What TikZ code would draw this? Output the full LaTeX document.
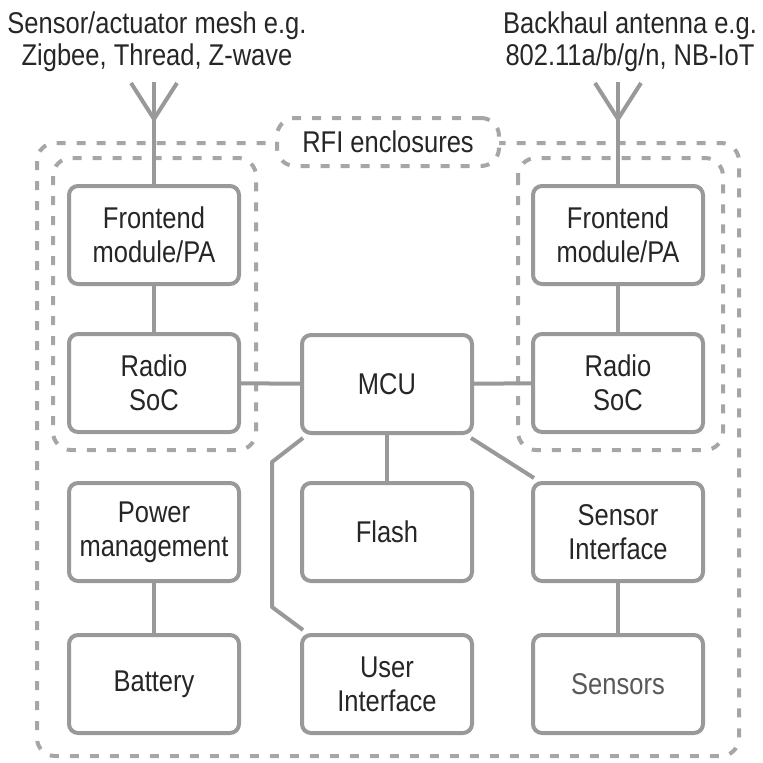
\documentclass[tikz,border=0pt]{standalone}
\usepackage{fontspec}
\setmainfont[FakeStretch=0.85]{Liberation Sans}
\begin{document}
\begin{tikzpicture}[x=1pt,y=-1pt,
  lineg/.style={draw=black!40, line width=4pt},
  blk/.style={lineg, rounded corners=9pt, fill=white, minimum width=170pt, minimum height=98pt,
    align=center, text=black!85, font=\fontsize{30}{34}\selectfont, inner sep=0pt},
  enc/.style={draw=black!35, line width=4pt, dash pattern=on 9pt off 11pt, rounded corners=18pt},
  lbl/.style={align=center, text=black!85, font=\fontsize{30}{32}\selectfont, inner sep=0pt}]
\useasboundingbox (0,0) rectangle (763,763);
% enclosures
\draw[enc] (37,143) rectangle (739,756);
\draw[enc] (53,158) rectangle (256,450);
\draw[enc] (518,158) rectangle (723,450);
\node[enc, fill=white, minimum width=222pt, minimum height=48pt, inner sep=0pt] (rfi) at (388,142) {};
\node[lbl] at (rfi) {RFI enclosures};
% blocks
\node[blk] (lf) at (154,235) {Frontend\\module/PA};
\node[blk] (lr) at (154,383) {Radio\\SoC};
\node[blk] (mcu) at (387,384) {MCU};
\node[blk] (rf) at (618,235) {Frontend\\module/PA};
\node[blk] (rr) at (618,383) {Radio\\SoC};
\node[blk] (pm) at (154,532) {Power\\management};
\node[blk] (fl) at (387,532) {Flash};
\node[blk] (si) at (618,532) {Sensor\\Interface};
\node[blk] (bat) at (154,684) {Battery};
\node[blk] (ui) at (387,684) {User\\Interface};
\node[blk, text=black!65] (sen) at (618,684) {Sensors};
% antenna labels
\node[lbl] (lt) at (157,42) {Sensor/actuator mesh e.g.\\Zigbee, Thread, Z-wave};
\node[lbl] (rt) at (630,42) {Backhaul antenna e.g.\\802.11a/b/g/n, NB-IoT};
% antennas
\coordinate (la) at (154,82);
\coordinate (lj) at (154,119);
\coordinate (ll) at (131,83);
\coordinate (lrr) at (177,83);
\draw[lineg] (la) -- (lf.north);
\draw[lineg, line join=round] (ll) -- (lj) -- (lrr);
\coordinate (ra) at (618,82);
\coordinate (rj) at (618,119);
\coordinate (rl) at (595,83);
\coordinate (rrr) at (641,83);
\draw[lineg] (ra) -- (rf.north);
\draw[lineg, line join=round] (rl) -- (rj) -- (rrr);
% connectors
\draw[lineg] (lf) -- (lr);
\draw[lineg] (rf) -- (rr);
\draw[lineg] (lr) -- (mcu);
\draw[lineg] (mcu) -- (rr);
\draw[lineg] (mcu) -- (fl);
\draw[lineg] (pm) -- (bat);
\draw[lineg] (si) -- (sen);
\coordinate (u1) at (272,462);
\coordinate (u2) at (272,607);
\draw[lineg, line join=round] ([shift={(3pt,-3pt)}]mcu.south west) -- (u1) -- (u2) -- ([shift={(3pt,3pt)}]ui.north west);
\draw[lineg] ([shift={(-3pt,-3pt)}]mcu.south east) -- ([shift={(3pt,3pt)}]si.north west);
\end{tikzpicture}
\end{document}
